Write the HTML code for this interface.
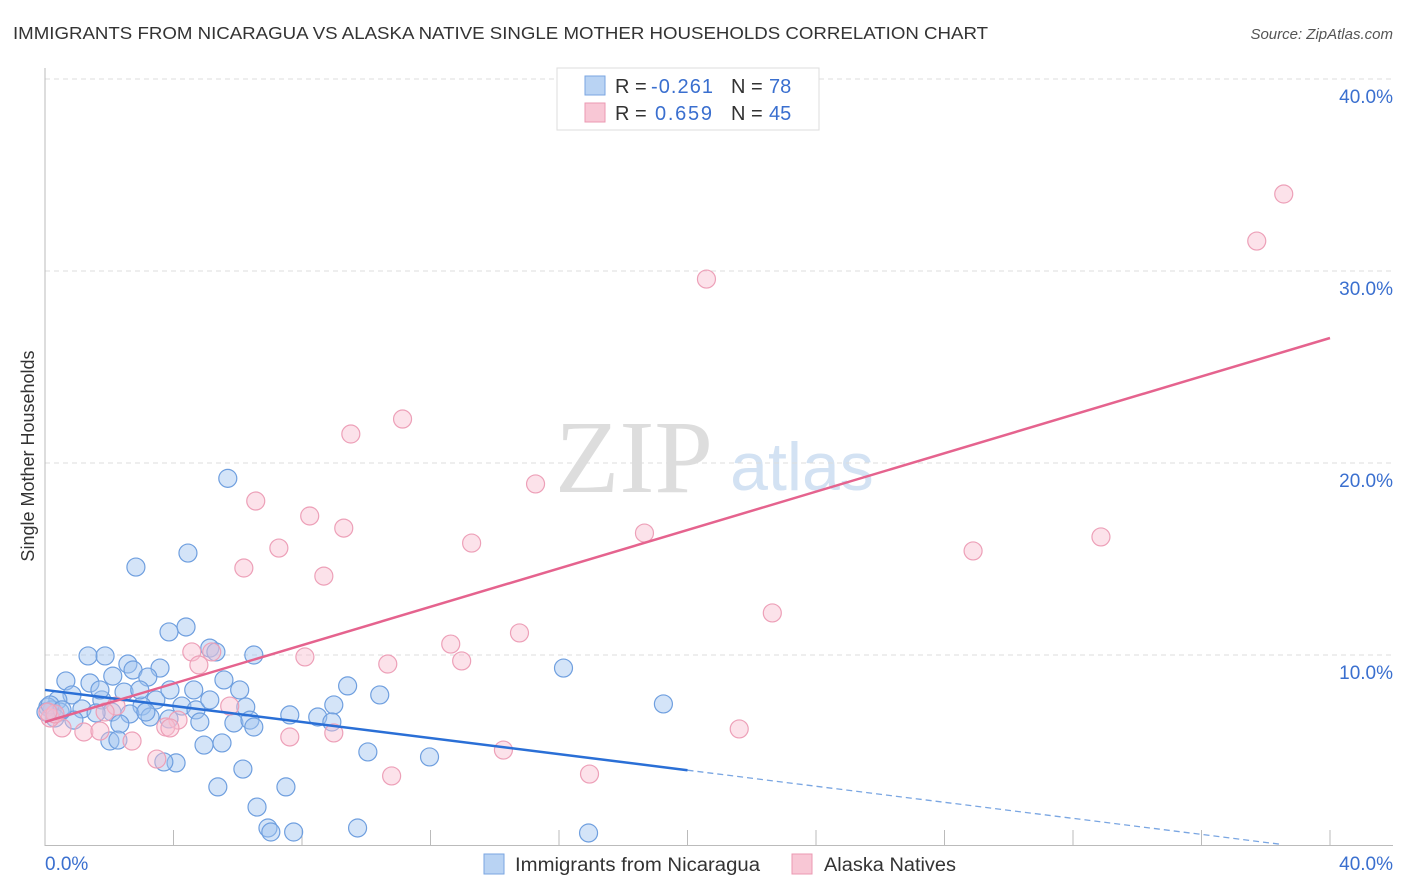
<!DOCTYPE html>
<html><head><meta charset="utf-8"><style>
body{margin:0;background:#fff;font-family:"Liberation Sans",sans-serif;}
#wrap{position:relative;width:1406px;height:892px;overflow:hidden;}
</style></head><body>
<div id="wrap">
<svg id="svg" width="1406" height="892" xmlns="http://www.w3.org/2000/svg" font-family="Liberation Sans, sans-serif">
<text x="13" y="39" font-size="17.5" fill="#333" textLength="975" lengthAdjust="spacingAndGlyphs">IMMIGRANTS FROM NICARAGUA VS ALASKA NATIVE SINGLE MOTHER HOUSEHOLDS CORRELATION CHART</text>
<text x="1393" y="39" font-size="15" fill="#555" font-style="italic" text-anchor="end">Source: ZipAtlas.com</text>
<text x="634" y="492" font-size="104" fill="#ddd" font-family="Liberation Serif, serif" text-anchor="middle" textLength="158" lengthAdjust="spacingAndGlyphs">ZIP</text>
<text x="802" y="490" font-size="68" fill="#d3e2f3" text-anchor="middle">atlas</text>
<text transform="translate(34,456) rotate(-90)" font-size="18" fill="#333" text-anchor="middle">Single Mother Households</text>
<g id="grid"></g><g id="axes"></g><g id="pts"></g><g id="lines"></g>
<g>
<rect x="557" y="68" width="262" height="62" fill="#fff" stroke="#ddd"/>
<rect x="585" y="76" width="20" height="19" fill="#b9d3f3" stroke="#7aa6e2"/>
<rect x="585" y="103" width="20" height="19" fill="#f8c7d5" stroke="#eb98b2"/>
<text x="615" y="93" font-size="20" fill="#333">R = <tspan x="651" fill="#3a6fcf" textLength="62">-0.261</tspan><tspan x="731">N = </tspan><tspan x="769" fill="#3a6fcf">78</tspan></text>
<text x="615" y="120" font-size="20" fill="#333">R = <tspan x="655" fill="#3a6fcf" textLength="57">0.659</tspan><tspan x="731">N = </tspan><tspan x="769" fill="#3a6fcf">45</tspan></text>
</g>
<g>
<rect x="484" y="854" width="20" height="20" fill="#b9d3f3" stroke="#7aa6e2"/>
<text x="515" y="871" font-size="19" fill="#333" textLength="245" lengthAdjust="spacingAndGlyphs">Immigrants from Nicaragua</text>
<rect x="792" y="854" width="20" height="20" fill="#f8c7d5" stroke="#eb98b2"/>
<text x="824" y="871" font-size="19" fill="#333" textLength="132" lengthAdjust="spacingAndGlyphs">Alaska Natives</text>
</g>
</svg>
</div>
<script>
const blueX=[5.69,2.83,4.45,4.39,3.86,5.13,5.32,6.5,1.34,1.87,2.58,3.58,2.74,0.65,1.4,2.11,3.2,5.57,4.63,2.46,0.84,0.4,1.77,3.45,4.26,3.02,2.08,4.7,6.25,8.99,9.42,10.42,1.15,1.59,0.22,0.09,0.47,2.64,3.27,3.86,4.82,5.88,6.38,6.5,2.33,3.14,8.49,8.93,0.9,4.95,5.51,2.02,2.27,4.08,3.7,6.16,10.05,11.97,5.38,6.6,7.5,6.94,7.03,7.74,9.73,16.92,16.14,19.25,0.03,0.16,0.31,0.53,1.71,2.95,3.89,5.13,6.06,7.62];
const blueY=[19.2,14.58,15.31,11.46,11.2,10.36,10.16,10.0,9.95,9.95,9.53,9.32,9.22,8.65,8.54,8.9,8.85,8.7,8.18,8.07,7.92,7.66,7.66,7.66,7.34,7.34,7.03,7.14,7.29,7.4,8.39,7.92,7.19,6.98,7.14,7.29,7.03,6.93,6.77,6.67,6.51,6.46,6.61,6.25,6.41,7.03,6.77,6.51,6.61,5.31,5.42,5.52,5.57,4.38,4.43,4.06,4.95,4.69,3.13,2.08,3.13,0.99,0.78,0.78,0.99,0.73,9.32,7.45,7.03,7.4,6.72,7.14,8.18,8.18,8.18,7.66,8.18,6.88];
const pinkX=[38.56,37.72,20.59,11.13,9.52,15.27,6.56,8.24,9.3,13.28,18.66,32.87,28.89,7.28,6.19,8.68,22.64,14.77,12.63,12.97,10.67,8.09,4.57,5.19,4.79,5.75,2.21,4.14,3.76,7.62,8.99,21.61,0.53,1.21,1.71,2.71,3.48,3.89,14.27,10.79,16.95,0.16,0.31,0.09,1.87];
const pinkY=[34.01,31.56,29.58,22.29,21.51,18.91,18.02,17.24,16.61,15.83,16.35,16.15,15.42,15.57,14.53,14.11,12.19,11.15,10.57,9.69,9.53,9.9,10.16,10.16,9.48,7.34,7.34,6.61,6.25,5.73,5.94,6.15,6.2,5.99,6.04,5.52,4.58,6.2,5.05,3.7,3.8,6.72,6.93,7.03,7.03];
const yTicks=[10,20,30,40];
const xTickLabels=["0.0%","40.0%"];
const blueTrend=[8.18,-0.209];
const pinkTrend=[6.51,0.5];
const NS="http://www.w3.org/2000/svg";
const sx=v=>45+v*(1285/40);
const sy=v=>847-v*19.2;
function mk(t,a,p){const e=document.createElementNS(NS,t);for(const k in a)e.setAttribute(k,a[k]);p.appendChild(e);return e;}
const grid=document.getElementById('grid'),axes=document.getElementById('axes'),pts=document.getElementById('pts'),lines=document.getElementById('lines');
yTicks.forEach(t=>{
 const l=mk('line',{x1:45,x2:1393,y1:sy(t),y2:sy(t),stroke:'#ddd','stroke-dasharray':'5,4'},grid);
 
 
 const tx=mk('text',{x:1393,y:sy(t)+24,'font-size':19,fill:'#3a6fcf','text-anchor':'end'},grid);
 tx.textContent=t.toFixed(1)+'%';
 
 
});
const ya=mk('line',{x1:45,x2:45,y1:68,y2:846,stroke:'#bbb'},axes);


const xa=mk('line',{x1:45,x2:1393,y1:845.5,y2:845.5,stroke:'#bbb'},axes);


for(let i=1;i<=10;i++){
 const t=mk('line',{x1:sx(i*4),x2:sx(i*4),y1:830,y2:845,stroke:'#bbb'},axes);
 
 
}
const xl0=mk('text',{x:45,y:870,'font-size':19,fill:'#3a6fcf'},axes);xl0.textContent=xTickLabels[0];


const xl1=mk('text',{x:1393,y:870,'font-size':19,fill:'#3a6fcf','text-anchor':'end'},axes);xl1.textContent=xTickLabels[1];


blueX.forEach((x,i)=>{
 const c=mk('circle',{cx:sx(x),cy:sy(blueY[i]),r:9,fill:'rgba(160,195,240,0.45)',stroke:'#6f9fdf','stroke-width':1.2},pts);
 
 
});
pinkX.forEach((x,i)=>{
 const c=mk('circle',{cx:sx(x),cy:sy(pinkY[i]),r:9,fill:'rgba(248,190,208,0.45)',stroke:'#eda0b8','stroke-width':1.2},pts);
 
 
});
const bt=x=>blueTrend[0]+blueTrend[1]*x, pt=x=>pinkTrend[0]+pinkTrend[1]*x;
const b1=mk('line',{x1:sx(0),y1:sy(bt(0)),x2:sx(20),y2:sy(bt(20)),stroke:'#2a6fd6','stroke-width':2.5},lines);


const b2=mk('line',{x1:sx(20),y1:sy(bt(20)),x2:sx(38.5),y2:sy(bt(38.5)),stroke:'#7aa6e2','stroke-width':1.3,'stroke-dasharray':'6,4'},lines);


const p1=mk('line',{x1:sx(0),y1:sy(pt(0)),x2:sx(40),y2:sy(pt(40)),stroke:'#e5638e','stroke-width':2.5},lines);


</script>
</body></html>
